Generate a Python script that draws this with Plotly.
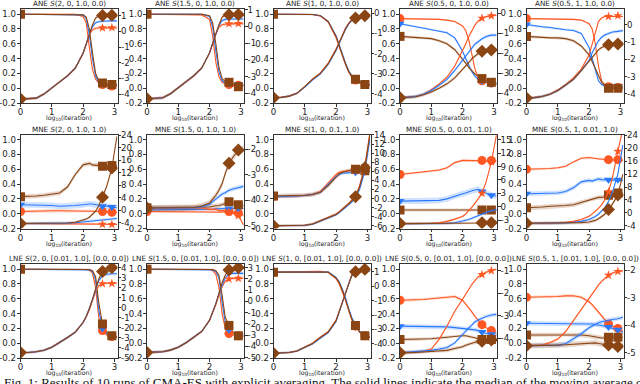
import math
import plotly.graph_objects as go

# ---------------- data ----------------
X = [0, 0.25, 0.5, 0.75, 1.0, 1.25, 1.5, 1.75, 2.0, 2.1, 2.2, 2.3, 2.4, 2.5, 2.62, 2.75, 2.92, 3.08]
MARK_IDX = [0, 14, 16]

TITLES = [
    "ANE <i>S</i>(2, 0, 1.0, 0.0)", "ANE <i>S</i>(1.5, 0, 1.0, 0.0)", "ANE <i>S</i>(1, 0, 1.0, 0.0)",
    "ANE <i>S</i>(0.5, 0, 1.0, 0.0)", "ANE <i>S</i>(0.5, 1, 1.0, 0.0)",
    "MNE <i>S</i>(2, 0, 1.0, 1.0)", "MNE <i>S</i>(1.5, 0, 1.0, 1.0)", "MNE <i>S</i>(1, 0, 0.1, 1.0)",
    "MNE <i>S</i>(0.5, 0, 0.01, 1.0)", "MNE <i>S</i>(0.5, 1, 0.01, 1.0)",
    "LNE <i>S</i>(2, 0, [0.01, 1.0], [0.0, 0.0])", "LNE <i>S</i>(1.5, 0, [0.01, 1.0], [0.0, 0.0])",
    "LNE <i>S</i>(1, 0, [0.01, 1.0], [0.0, 0.0])", "LNE <i>S</i>(0.5, 0, [0.01, 1.0], [0.0, 0.0])",
    "LNE <i>S</i>(0.5, 1, [0.01, 1.0], [0.0, 0.0])",
]
X_TITLE = "log<sub>10</sub>(iteration)"
X_TICKS = [0, 1, 2, 3]
LEFT_TICKS = [-0.2, 0.0, 0.2, 0.4, 0.6, 0.8, 1.0]
RIGHT_RANGE = [
    [-4.57, 1.43], [-4.57, 1.04], [-4.45, 0.21], [-4.49, 0.22], [-4.53, 0.9],
    [-5.8, 24.2], [-5.1, -1.42], [-6.6, 14.1], [-4.9, 16.2], [-4.8, 24.2],
    [-5.03, 4.37], [-5.03, 3.33], [-4.98, 1.54], [-4.87, -0.69], [-5.2, -1.78],
]
RIGHT_DTICK = [1, 1, 1, 1, 1, 4, 1, 2, 3, 4, 1, 1, 1, 1, 1]
CAPTION = ("Fig. 1: Results of 10 runs of CMA-ES with explicit averaging. The solid lines "
           "indicate the median of the moving average of")

# Row 1 (ANE)
r1c1_Lo = [1.0, 1.0, 1.0, 1.0, 1.0, 1.0, 1.0, 1.0, 0.97, 0.88, 0.55, 0.25, 0.12, 0.07, 0.05, 0.04, 0.03, 0.03]
r1c1_Lb = [1.0, 1.0, 1.0, 1.0, 1.0, 1.0, 1.0, 1.0, 0.99, 0.94, 0.72, 0.4, 0.16, 0.08, 0.06, 0.05, 0.04, 0.04]
r1c1_Lw = [1.0, 1.0, 1.0, 1.0, 1.0, 1.0, 1.0, 1.0, 0.99, 0.96, 0.8, 0.48, 0.2, 0.1, 0.07, 0.06, 0.05, 0.05]
r1c1_Ro = [-4.32, -4.3, -4.26, -4.0, -3.62, -3.2, -2.84, -2.35, -1.39, -0.85, -0.2, 0.1, 0.2, 0.22, 0.23, 0.21, 0.24, 0.22]
r1c1_Rb = [-4.32, -4.3, -4.26, -4.0, -3.62, -3.2, -2.84, -2.35, -1.39, -0.8, -0.15, 0.3, 0.55, 0.62, 0.66, 0.66, 0.68, 0.67]
r1c1_Rw = [-4.32, -4.3, -4.26, -4.0, -3.62, -3.2, -2.84, -2.35, -1.39, -0.8, -0.12, 0.41, 0.85, 1.0, 1.02, 1.0, 1.03, 1.0]
r1c1_sp = [0.01, 0.01, 0.01, 0.08, 0.08, 0.08]

r1c2_Lo = [1.0, 1.0, 1.0, 1.0, 1.0, 1.0, 1.0, 0.99, 0.93, 0.7, 0.35, 0.15, 0.08, 0.06, 0.05, 0.04, 0.04, 0.04]
r1c2_Lb = [1.0, 1.0, 1.0, 1.0, 1.0, 1.0, 1.0, 1.0, 0.97, 0.82, 0.5, 0.22, 0.1, 0.07, 0.06, 0.05, 0.05, 0.05]
r1c2_Lw = [1.0, 1.0, 1.0, 1.0, 1.0, 1.0, 1.0, 1.0, 0.98, 0.88, 0.6, 0.28, 0.13, 0.09, 0.08, 0.05, 0.02, 0.03]
r1c2_Ro = [-4.32, -4.3, -4.26, -4.02, -3.67, -3.3, -2.94, -2.48, -1.58, -1.02, -0.45, -0.05, 0.1, 0.14, 0.16, 0.15, 0.17, 0.16]
r1c2_Rb = [-4.32, -4.3, -4.26, -4.02, -3.67, -3.3, -2.94, -2.48, -1.58, -1.0, -0.42, 0.05, 0.35, 0.42, 0.44, 0.43, 0.45, 0.44]
r1c2_Rw = [-4.32, -4.3, -4.26, -4.02, -3.67, -3.3, -2.94, -2.48, -1.58, -1.0, -0.39, 0.1, 0.55, 0.68, 0.7, 0.68, 0.71, 0.69]
r1c2_sp = [0.01, 0.01, 0.01, 0.08, 0.08, 0.08]

r1c3_Lo = [1.0, 1.0, 1.0, 1.0, 1.0, 0.995, 0.975, 0.89, 0.68, 0.55, 0.43, 0.32, 0.22, 0.15, 0.11, 0.08, 0.05, 0.04]
r1c3_Lb = [1.0, 1.0, 1.0, 1.0, 1.0, 0.995, 0.98, 0.9, 0.71, 0.58, 0.46, 0.34, 0.24, 0.17, 0.12, 0.09, 0.06, 0.05]
r1c3_Lw = [1.0, 1.0, 1.0, 1.0, 1.0, 0.995, 0.98, 0.9, 0.7, 0.57, 0.45, 0.33, 0.23, 0.16, 0.12, 0.08, 0.05, 0.04]
r1c3_Ro = [-4.19, -4.17, -4.11, -3.97, -3.64, -3.27, -2.96, -2.47, -1.78, -1.41, -1.04, -0.75, -0.5, -0.33, -0.22, -0.17, -0.12, -0.1]
r1c3_Rb = [-4.19, -4.17, -4.11, -3.97, -3.66, -3.3, -3.0, -2.53, -1.85, -1.48, -1.1, -0.8, -0.54, -0.36, -0.24, -0.19, -0.13, -0.08]
r1c3_Rw = [-4.19, -4.17, -4.11, -3.97, -3.64, -3.27, -2.98, -2.5, -1.81, -1.44, -1.07, -0.78, -0.52, -0.34, -0.23, -0.18, -0.12, -0.1]
r1c3_sp = [0.01, 0.01, 0.01, 0.05, 0.05, 0.05]

r1c4_Lo = [0.94, 0.94, 0.935, 0.93, 0.93, 0.93, 0.92, 0.9, 0.84, 0.78, 0.65, 0.45, 0.25, 0.15, 0.1, 0.08, 0.07, 0.06]
r1c4_Lb = [0.87, 0.85, 0.84, 0.82, 0.8, 0.78, 0.75, 0.68, 0.5, 0.4, 0.3, 0.22, 0.16, 0.12, 0.1, 0.08, 0.06, 0.05]
r1c4_Lw = [0.7, 0.69, 0.68, 0.68, 0.67, 0.64, 0.6, 0.52, 0.4, 0.34, 0.28, 0.23, 0.19, 0.16, 0.13, 0.11, 0.08, 0.07]
r1c4_Ro = [-4.23, -4.21, -4.16, -4.05, -3.82, -3.53, -3.2, -2.64, -1.9, -1.53, -1.16, -0.83, -0.57, -0.38, -0.24, -0.16, -0.12, -0.09]
r1c4_Rb = [-4.23, -4.21, -4.16, -4.05, -3.86, -3.6, -3.31, -2.86, -2.34, -2.12, -1.9, -1.72, -1.53, -1.42, -1.27, -1.16, -1.09, -1.09]
r1c4_Rw = [-4.23, -4.21, -4.18, -4.08, -3.94, -3.75, -3.53, -3.23, -2.83, -2.64, -2.46, -2.27, -2.12, -2.01, -1.9, -1.86, -1.83, -1.83]
r1c4_sp = [0.01, 0.015, 0.02, 0.06, 0.08, 0.08]

r1c5_Lo = [0.94, 0.94, 0.935, 0.93, 0.93, 0.93, 0.93, 0.92, 0.87, 0.8, 0.6, 0.3, 0.1, 0.04, 0.02, 0.01, 0.01, 0.01]
r1c5_Lb = [0.86, 0.84, 0.83, 0.82, 0.8, 0.79, 0.78, 0.74, 0.55, 0.4, 0.22, 0.1, 0.05, 0.03, 0.02, 0.02, 0.02, 0.02]
r1c5_Lw = [0.7, 0.69, 0.69, 0.68, 0.68, 0.67, 0.64, 0.57, 0.45, 0.36, 0.26, 0.16, 0.08, 0.04, 0.0, 0.0, 0.0, 0.0]
r1c5_Ro = [-4.24, -4.22, -4.15, -4.02, -3.77, -3.47, -3.08, -2.57, -1.76, -1.12, -0.35, 0.17, 0.38, 0.47, 0.47, 0.47, 0.51, 0.47]
r1c5_Rb = [-4.24, -4.22, -4.15, -4.02, -3.81, -3.51, -3.17, -2.66, -2.06, -1.63, -1.24, -0.94, -0.73, -0.6, -0.52, -0.43, -0.39, -0.35]
r1c5_Rw = [-4.24, -4.22, -4.15, -4.02, -3.81, -3.51, -3.17, -2.66, -2.14, -1.89, -1.67, -1.46, -1.33, -1.24, -1.16, -1.12, -1.12, -1.16]
r1c5_sp = [0.01, 0.015, 0.02, 0.06, 0.08, 0.08]

# Row 2 (MNE)
r2c1_Lo = [0.03, 0.035, 0.04, 0.04, 0.04, 0.04, 0.04, 0.04, 0.04, 0.04, 0.04, 0.04, 0.04, 0.04, 0.03, 0.03, 0.02, 0.02]
r2c1_Lb = [0.12, 0.12, 0.12, 0.12, 0.11, 0.1, 0.1, 0.11, 0.12, 0.13, 0.13, 0.13, 0.12, 0.11, 0.1, 0.1, 0.09, 0.08]
r2c1_Lw = [0.23, 0.23, 0.24, 0.25, 0.26, 0.28, 0.36, 0.53, 0.66, 0.67, 0.68, 0.66, 0.66, 0.65, 0.64, 0.64, 0.65, 0.65]
r2c1_Ro = [-4.2, -4.2, -4.2, -4.2, -4.2, -4.2, -4.2, -4.25, -4.3, -4.3, -4.3, -4.35, -4.35, -4.4, -4.45, -4.45, -4.5, -4.5]
r2c1_Rb = [-4.2, -4.2, -4.2, -4.2, -4.2, -4.2, -4.1, -3.95, -3.7, -3.55, -3.45, -3.35, -3.25, -3.15, -3.0, -2.85, -2.7, -2.6]
r2c1_Rw = [-4.2, -4.2, -4.2, -4.2, -4.15, -4.1, -4.05, -3.8, -3.2, -2.8, -2.2, -1.4, -0.3, 1.4, 4.2, 7.5, 13.5, 23.5]
r2c1_sp = [0.02, 0.04, 0.03, 0.3, 0.5, 0.4]

r2c2_Lo = [0.03, 0.03, 0.03, 0.03, 0.03, 0.03, 0.03, 0.03, 0.03, 0.03, 0.03, 0.03, 0.03, 0.03, 0.03, 0.02, 0.01, -0.02]
r2c2_Lb = [0.05, 0.05, 0.05, 0.05, 0.05, 0.05, 0.055, 0.06, 0.06, 0.06, 0.065, 0.07, 0.07, 0.07, 0.07, 0.07, 0.07, 0.07]
r2c2_Lw = [0.08, 0.08, 0.08, 0.08, 0.08, 0.08, 0.08, 0.085, 0.09, 0.1, 0.1, 0.11, 0.12, 0.14, 0.16, 0.14, 0.12, 0.11]
r2c2_Ro = [-4.3, -4.3, -4.3, -4.3, -4.3, -4.3, -4.3, -4.3, -4.35, -4.35, -4.35, -4.4, -4.4, -4.4, -4.45, -4.5, -4.6, -4.95]
r2c2_Rb = [-4.3, -4.3, -4.3, -4.3, -4.3, -4.3, -4.3, -4.25, -4.15, -4.05, -3.95, -3.85, -3.75, -3.7, -3.6, -3.55, -3.5, -3.45]
r2c2_Rw = [-4.3, -4.3, -4.3, -4.3, -4.3, -4.3, -4.28, -4.22, -4.1, -3.95, -3.8, -3.6, -3.35, -2.95, -2.55, -2.3, -2.03, -2.0]
r2c2_sp = [0.02, 0.02, 0.03, 0.05, 0.08, 0.12]

r2c3_Lo = [0.23, 0.23, 0.235, 0.24, 0.245, 0.26, 0.3, 0.42, 0.53, 0.56, 0.57, 0.58, 0.58, 0.59, 0.59, 0.59, 0.58, 0.58]
r2c3_Lb = [0.23, 0.23, 0.235, 0.24, 0.245, 0.26, 0.29, 0.4, 0.5, 0.53, 0.55, 0.55, 0.55, 0.56, 0.56, 0.57, 0.57, 0.57]
r2c3_Lw = [0.24, 0.24, 0.24, 0.245, 0.25, 0.26, 0.29, 0.38, 0.5, 0.54, 0.56, 0.57, 0.58, 0.59, 0.6, 0.59, 0.58, 0.58]
r2c3_Ro = [-6.0, -6.0, -6.0, -5.95, -5.9, -5.6, -4.85, -4.1, -3.4, -2.9, -2.4, -1.7, -1.1, -0.4, 0.6, 2.8, 7.2, 14.5]
r2c3_Rb = [-6.0, -6.0, -6.0, -5.95, -5.9, -5.65, -5.0, -4.3, -3.6, -3.1, -2.6, -2.0, -1.4, -0.8, 0.1, 2.0, 6.0, 13.0]
r2c3_Rw = [-6.0, -6.0, -6.0, -5.95, -5.9, -5.6, -4.9, -4.2, -3.5, -3.0, -2.5, -1.8, -1.2, -0.5, 0.4, 2.5, 6.8, 14.0]
r2c3_sp = [0.02, 0.02, 0.03, 0.25, 0.25, 0.25]

r2c4_Lo = [0.53, 0.54, 0.55, 0.56, 0.57, 0.59, 0.62, 0.69, 0.72, 0.72, 0.72, 0.72, 0.72, 0.72, 0.72, 0.72, 0.72, 0.71]
r2c4_Lb = [0.17, 0.17, 0.17, 0.17, 0.17, 0.18, 0.2, 0.24, 0.27, 0.28, 0.3, 0.31, 0.32, 0.33, 0.3, 0.28, 0.25, 0.24]
r2c4_Lw = [0.05, 0.05, 0.04, 0.04, 0.04, 0.045, 0.05, 0.05, 0.05, 0.05, 0.05, 0.05, 0.05, 0.05, 0.05, 0.05, 0.05, 0.05]
r2c4_Ro = [-3.8, -3.8, -3.8, -3.78, -3.75, -3.6, -3.3, -2.8, -2.2, -1.6, -0.9, -0.1, 0.8, 1.8, 3.0, 5.5, 10.0, 16.0]
r2c4_Rb = [-3.8, -3.8, -3.8, -3.8, -3.8, -3.8, -3.75, -3.6, -3.3, -3.1, -2.9, -2.6, -2.3, -2.0, -1.6, -1.3, -0.9, -0.7]
r2c4_Rw = [-3.8, -3.8, -3.8, -3.8, -3.8, -3.8, -3.8, -3.8, -3.75, -3.75, -3.7, -3.7, -3.65, -3.65, -3.6, -3.6, -3.6, -3.55]
r2c4_sp = [0.015, 0.04, 0.02, 0.25, 0.3, 0.2]

r2c5_Lo = [0.6, 0.6, 0.61, 0.61, 0.62, 0.64, 0.7, 0.75, 0.76, 0.75, 0.75, 0.74, 0.74, 0.73, 0.73, 0.73, 0.73, 0.72]
r2c5_Lb = [0.27, 0.27, 0.27, 0.28, 0.28, 0.3, 0.35, 0.43, 0.45, 0.44, 0.46, 0.47, 0.46, 0.46, 0.46, 0.46, 0.46, 0.45]
r2c5_Lw = [0.08, 0.08, 0.09, 0.1, 0.1, 0.11, 0.12, 0.15, 0.19, 0.2, 0.21, 0.22, 0.22, 0.23, 0.25, 0.26, 0.28, 0.28]
r2c5_Ro = [-3.2, -3.2, -3.2, -3.2, -3.1, -2.9, -2.6, -2.0, -1.0, -0.3, 0.5, 1.4, 2.5, 4.0, 6.5, 11.0, 19.0, 26.0]
r2c5_Rb = [-3.2, -3.2, -3.2, -3.2, -3.15, -3.05, -2.9, -2.6, -2.0, -1.6, -1.1, -0.4, 0.5, 1.6, 3.5, 6.5, 12.0, 21.0]
r2c5_Rw = [-3.2, -3.2, -3.2, -3.2, -3.2, -3.15, -3.1, -3.0, -2.8, -2.6, -2.3, -1.8, -1.2, -0.4, 1.1, 2.8, 5.5, 12.0]
r2c5_sp = [0.015, 0.03, 0.03, 0.3, 0.4, 0.5]

# Row 3 (LNE)
r3c1_Lo = [1.0, 1.0, 1.0, 1.0, 1.0, 1.0, 1.0, 1.0, 1.0, 0.995, 0.985, 0.95, 0.75, 0.35, 0.17, 0.11, 0.09, 0.08]
r3c1_Lb = [1.0, 1.0, 1.0, 1.0, 1.0, 1.0, 1.0, 1.0, 1.0, 1.0, 0.99, 0.97, 0.85, 0.45, 0.2, 0.13, 0.1, 0.09]
r3c1_Lw = [1.0, 1.0, 1.0, 1.0, 1.0, 1.0, 1.0, 1.0, 1.0, 1.0, 0.995, 0.98, 0.9, 0.55, 0.26, 0.15, 0.1, 0.08]
r3c1_Ro = [-4.48, -4.48, -4.4, -4.25, -3.95, -3.5, -2.98, -2.45, -1.48, -0.9, -0.2, 0.7, 1.6, 2.2, 2.4, 2.45, 2.42, 2.44]
r3c1_Rb = [-4.48, -4.48, -4.4, -4.25, -3.95, -3.5, -2.98, -2.45, -1.48, -0.88, -0.13, 0.8, 1.8, 2.7, 3.2, 3.35, 3.4, 3.4]
r3c1_Rw = [-4.48, -4.48, -4.4, -4.25, -3.95, -3.5, -2.98, -2.45, -1.48, -0.88, -0.13, 0.85, 1.9, 2.88, 3.63, 3.93, 4.0, 4.0]
r3c1_sp = [0.01, 0.015, 0.01, 0.1, 0.15, 0.1]

r3c2_Lo = [1.0, 1.0, 1.0, 1.0, 1.0, 1.0, 1.0, 1.0, 0.995, 0.98, 0.93, 0.75, 0.4, 0.2, 0.13, 0.11, 0.1, 0.09]
r3c2_Lb = [1.0, 1.0, 1.0, 1.0, 1.0, 1.0, 1.0, 1.0, 1.0, 0.99, 0.97, 0.88, 0.55, 0.28, 0.18, 0.14, 0.12, 0.12]
r3c2_Lw = [1.0, 1.0, 1.0, 1.0, 1.0, 1.0, 1.0, 1.0, 1.0, 0.995, 0.98, 0.92, 0.65, 0.35, 0.24, 0.15, 0.1, 0.1]
r3c2_Ro = [-4.53, -4.53, -4.47, -4.33, -4.07, -3.67, -3.2, -2.67, -1.67, -1.05, -0.3, 0.6, 1.3, 1.8, 2.0, 2.05, 2.06, 2.06]
r3c2_Rb = [-4.53, -4.53, -4.47, -4.33, -4.07, -3.67, -3.2, -2.67, -1.67, -1.0, -0.2, 0.7, 1.5, 2.1, 2.4, 2.5, 2.5, 2.5]
r3c2_Rw = [-4.53, -4.53, -4.47, -4.33, -4.07, -3.67, -3.2, -2.67, -1.67, -1.0, -0.2, 0.73, 1.67, 2.33, 2.8, 2.95, 3.0, 3.0]
r3c2_sp = [0.01, 0.015, 0.01, 0.1, 0.12, 0.1]

r3c3_Lo = [0.96, 0.96, 0.96, 0.96, 0.965, 0.97, 0.97, 0.955, 0.87, 0.8, 0.7, 0.58, 0.44, 0.32, 0.23, 0.15, 0.1, 0.08]
r3c3_Lb = [0.96, 0.96, 0.96, 0.96, 0.965, 0.97, 0.97, 0.96, 0.89, 0.83, 0.73, 0.62, 0.47, 0.35, 0.25, 0.16, 0.11, 0.08]
r3c3_Lw = [0.96, 0.96, 0.96, 0.96, 0.965, 0.97, 0.97, 0.96, 0.88, 0.82, 0.72, 0.6, 0.45, 0.33, 0.24, 0.15, 0.1, 0.08]
r3c3_Ro = [-4.65, -4.63, -4.6, -4.49, -4.22, -3.95, -3.52, -3.15, -2.35, -1.72, -1.05, -0.36, 0.26, 0.78, 1.02, 1.12, 1.15, 1.15]
r3c3_Rb = [-4.65, -4.63, -4.6, -4.5, -4.25, -4.0, -3.6, -3.22, -2.45, -1.85, -1.15, -0.5, 0.15, 0.7, 0.98, 1.1, 1.1, 1.05]
r3c3_Rw = [-4.65, -4.63, -4.6, -4.49, -4.23, -3.97, -3.55, -3.18, -2.39, -1.76, -1.08, -0.4, 0.23, 0.76, 1.01, 1.12, 1.17, 1.12]
r3c3_sp = [0.01, 0.01, 0.01, 0.07, 0.07, 0.07]

r3c4_Lo = [0.58, 0.58, 0.59, 0.59, 0.6, 0.61, 0.62, 0.63, 0.58, 0.53, 0.48, 0.42, 0.36, 0.31, 0.25, 0.21, 0.17, 0.13]
r3c4_Lb = [0.23, 0.23, 0.23, 0.22, 0.22, 0.22, 0.22, 0.21, 0.2, 0.2, 0.19, 0.19, 0.18, 0.17, 0.15, 0.13, 0.12, 0.1]
r3c4_Lw = [0.05, 0.05, 0.05, 0.06, 0.06, 0.07, 0.08, 0.1, 0.1, 0.1, 0.09, 0.09, 0.08, 0.07, 0.05, 0.05, 0.05, 0.05]
r3c4_Ro = [-4.64, -4.62, -4.6, -4.57, -4.47, -4.04, -3.46, -2.79, -2.26, -2.03, -1.79, -1.59, -1.42, -1.25, -1.16, -1.05, -0.99, -0.92]
r3c4_Rb = [-4.64, -4.62, -4.6, -4.57, -4.53, -4.47, -4.4, -4.2, -3.8, -3.65, -3.53, -3.4, -3.26, -3.18, -3.1, -3.02, -2.96, -2.93]
r3c4_Rw = [-4.64, -4.64, -4.62, -4.6, -4.57, -4.55, -4.53, -4.45, -4.37, -4.3, -4.25, -4.2, -4.17, -4.15, -4.13, -4.1, -4.07, -4.0]
r3c4_sp = [0.02, 0.03, 0.02, 0.05, 0.08, 0.08]

r3c5_Lo = [0.62, 0.62, 0.63, 0.63, 0.63, 0.64, 0.64, 0.62, 0.56, 0.52, 0.47, 0.42, 0.37, 0.32, 0.26, 0.23, 0.2, 0.16]
r3c5_Lb = [0.27, 0.27, 0.27, 0.27, 0.27, 0.27, 0.27, 0.26, 0.26, 0.26, 0.25, 0.25, 0.24, 0.23, 0.22, 0.2, 0.18, 0.15]
r3c5_Lw = [0.11, 0.11, 0.12, 0.12, 0.12, 0.12, 0.12, 0.11, 0.1, 0.09, 0.08, 0.07, 0.07, 0.07, 0.08, 0.08, 0.08, 0.08]
r3c5_Ro = [-4.75, -4.74, -4.73, -4.64, -4.51, -4.24, -3.83, -3.42, -3.01, -2.84, -2.68, -2.55, -2.41, -2.3, -2.19, -2.11, -2.05, -2.03]
r3c5_Rb = [-4.75, -4.74, -4.73, -4.73, -4.73, -4.68, -4.51, -4.32, -4.1, -4.03, -3.96, -3.92, -3.88, -3.85, -3.83, -3.8, -3.77, -3.72]
r3c5_Rw = [-4.75, -4.75, -4.75, -4.74, -4.73, -4.72, -4.7, -4.67, -4.64, -4.64, -4.65, -4.67, -4.7, -4.71, -4.73, -4.76, -4.78, -4.73]
r3c5_sp = [0.02, 0.03, 0.03, 0.05, 0.08, 0.1]

PANELS = [
    (r1c1_Lo, r1c1_Lb, r1c1_Lw, r1c1_Ro, r1c1_Rb, r1c1_Rw, r1c1_sp),
    (r1c2_Lo, r1c2_Lb, r1c2_Lw, r1c2_Ro, r1c2_Rb, r1c2_Rw, r1c2_sp),
    (r1c3_Lo, r1c3_Lb, r1c3_Lw, r1c3_Ro, r1c3_Rb, r1c3_Rw, r1c3_sp),
    (r1c4_Lo, r1c4_Lb, r1c4_Lw, r1c4_Ro, r1c4_Rb, r1c4_Rw, r1c4_sp),
    (r1c5_Lo, r1c5_Lb, r1c5_Lw, r1c5_Ro, r1c5_Rb, r1c5_Rw, r1c5_sp),
    (r2c1_Lo, r2c1_Lb, r2c1_Lw, r2c1_Ro, r2c1_Rb, r2c1_Rw, r2c1_sp),
    (r2c2_Lo, r2c2_Lb, r2c2_Lw, r2c2_Ro, r2c2_Rb, r2c2_Rw, r2c2_sp),
    (r2c3_Lo, r2c3_Lb, r2c3_Lw, r2c3_Ro, r2c3_Rb, r2c3_Rw, r2c3_sp),
    (r2c4_Lo, r2c4_Lb, r2c4_Lw, r2c4_Ro, r2c4_Rb, r2c4_Rw, r2c4_sp),
    (r2c5_Lo, r2c5_Lb, r2c5_Lw, r2c5_Ro, r2c5_Rb, r2c5_Rw, r2c5_sp),
    (r3c1_Lo, r3c1_Lb, r3c1_Lw, r3c1_Ro, r3c1_Rb, r3c1_Rw, r3c1_sp),
    (r3c2_Lo, r3c2_Lb, r3c2_Lw, r3c2_Ro, r3c2_Rb, r3c2_Rw, r3c2_sp),
    (r3c3_Lo, r3c3_Lb, r3c3_Lw, r3c3_Ro, r3c3_Rb, r3c3_Rw, r3c3_sp),
    (r3c4_Lo, r3c4_Lb, r3c4_Lw, r3c4_Ro, r3c4_Rb, r3c4_Rw, r3c4_sp),
    (r3c5_Lo, r3c5_Lb, r3c5_Lw, r3c5_Ro, r3c5_Rb, r3c5_Rw, r3c5_sp),
]

# ---------------- style / layout ----------------
W, H = 640, 384
COL_LEFT = [20.5, 147, 273.5, 400, 526.5]
PANEL_W = 97
ROW_TOP = [9, 134.5, 264]
ROW_BOTTOM = [103, 228.5, 358]
COLORS = ["#ff5722", "#2979ff", "#8b4513"]
BANDS = ["rgba(255,87,34,0.22)", "rgba(41,121,255,0.22)", "rgba(139,69,19,0.22)"]
L_SYMBOLS = ["circle", "triangle-down", "square"]
L_SIZES = [9, 8, 9]
R_SYMBOLS = ["star", None, "diamond"]
R_SIZES = [7, 0, 10]
SPINE = "#333333"
FONT = "DejaVu Sans"
TICK_FONT = 8.6


def right_ticks(rng, d):
    lo, hi = rng
    n0 = math.ceil(lo / d - 1e-9)
    n1 = math.floor(hi / d + 1e-9)
    vals = [n * d for n in range(n0, n1 + 1)]
    return vals, [f"{v:g}" for v in vals]


fig = go.Figure()
layout = dict(
    width=W, height=H, margin=dict(l=0, r=0, t=0, b=0, pad=0),
    paper_bgcolor="white", plot_bgcolor="white", showlegend=False,
    font=dict(family=FONT, size=TICK_FONT, color="#222222"),
)
annotations = []

for k, panel in enumerate(PANELS):
    r, c = divmod(k, 5)
    xa = "x" if k == 0 else f"x{k + 1}"
    yl = "y" if k == 0 else f"y{2 * k + 1}"
    yr = f"y{2 * k + 2}"
    series = panel[:6]
    spread = panel[6]

    for i, s in enumerate(series):
        ci = i % 3
        up = [v + spread[i] for v in s]
        lo = [v - spread[i] for v in s]
        fig.add_trace(go.Scatter(
            x=X + X[::-1], y=up + lo[::-1], xaxis=xa, yaxis=yl if i < 3 else yr,
            mode="lines", fill="toself", fillcolor=BANDS[ci], line=dict(width=0),
            hoverinfo="skip"))
    for i, s in enumerate(series):
        ci = i % 3
        fig.add_trace(go.Scatter(
            x=X, y=s, xaxis=xa, yaxis=yl if i < 3 else yr, mode="lines",
            line=dict(color=COLORS[ci], width=1.1), hoverinfo="skip"))
    for i, s in enumerate(series):
        ci = i % 3
        sym = L_SYMBOLS[ci] if i < 3 else R_SYMBOLS[ci]
        size = L_SIZES[ci] if i < 3 else R_SIZES[ci]
        if sym is None:
            continue
        fig.add_trace(go.Scatter(
            x=[X[j] for j in MARK_IDX], y=[s[j] for j in MARK_IDX],
            xaxis=xa, yaxis=yl if i < 3 else yr, mode="markers",
            marker=dict(symbol=sym, size=size, color=COLORS[ci], line=dict(width=0)),
            hoverinfo="skip"))

    xd = [COL_LEFT[c] / W, (COL_LEFT[c] + PANEL_W) / W]
    yd = [1 - ROW_BOTTOM[r] / H, 1 - ROW_TOP[r] / H]
    xkey = "xaxis" if k == 0 else f"xaxis{k + 1}"
    ylkey = "yaxis" if k == 0 else f"yaxis{2 * k + 1}"
    yrkey = f"yaxis{2 * k + 2}"
    common = dict(ticks="outside", ticklen=3, tickwidth=0.8, tickcolor=SPINE,
                  showline=True, linecolor=SPINE, linewidth=0.8, automargin=False,
                  showgrid=False, zeroline=False, tickfont=dict(size=TICK_FONT),
                  ticklabeloverflow="allow")
    rv, rt = right_ticks(RIGHT_RANGE[k], RIGHT_DTICK[k])
    layout[xkey] = dict(domain=xd, anchor=yl, range=[0, 3.1], tickvals=X_TICKS,
                        ticktext=[str(v) for v in X_TICKS], mirror=True,
                        ticklabelstandoff=-2, **common)
    layout[ylkey] = dict(domain=yd, anchor=xa, range=[-0.2, 1.07], tickvals=LEFT_TICKS,
                         ticktext=[f"{v:.1f}" for v in LEFT_TICKS],
                         ticklabelstandoff=-1, **common)
    layout[yrkey] = dict(overlaying=yl, side="right", anchor=xa, range=RIGHT_RANGE[k],
                         tickvals=rv, ticktext=rt, ticklabelstandoff=-2, **common)
    annotations.append(dict(
        text=TITLES[k], x=(xd[0] + xd[1]) / 2, y=yd[1], xref="paper", yref="paper",
        xanchor="center", yanchor="bottom", showarrow=False,
        font=dict(size=7.2, family=FONT, color="#222222"), yshift=-1))
    annotations.append(dict(
        text=X_TITLE, x=(xd[0] + xd[1]) / 2, y=yd[0], xref="paper", yref="paper",
        xanchor="center", yanchor="top", showarrow=False, yshift=-9,
        font=dict(size=6.2, family=FONT, color="#222222")))

annotations.append(dict(
    text=CAPTION, x=0.003, y=-0.022, xref="paper", yref="paper",
    xanchor="left", yanchor="bottom", showarrow=False,
    font=dict(size=13, family="Liberation Serif", color="#111111")))

layout["annotations"] = annotations
fig.update_layout(**layout)
fig.write_html(
    "out.html",
    config={"displayModeBar": False},
    post_script="document.body.style.margin='0';document.body.style.overflow='hidden';",
)
